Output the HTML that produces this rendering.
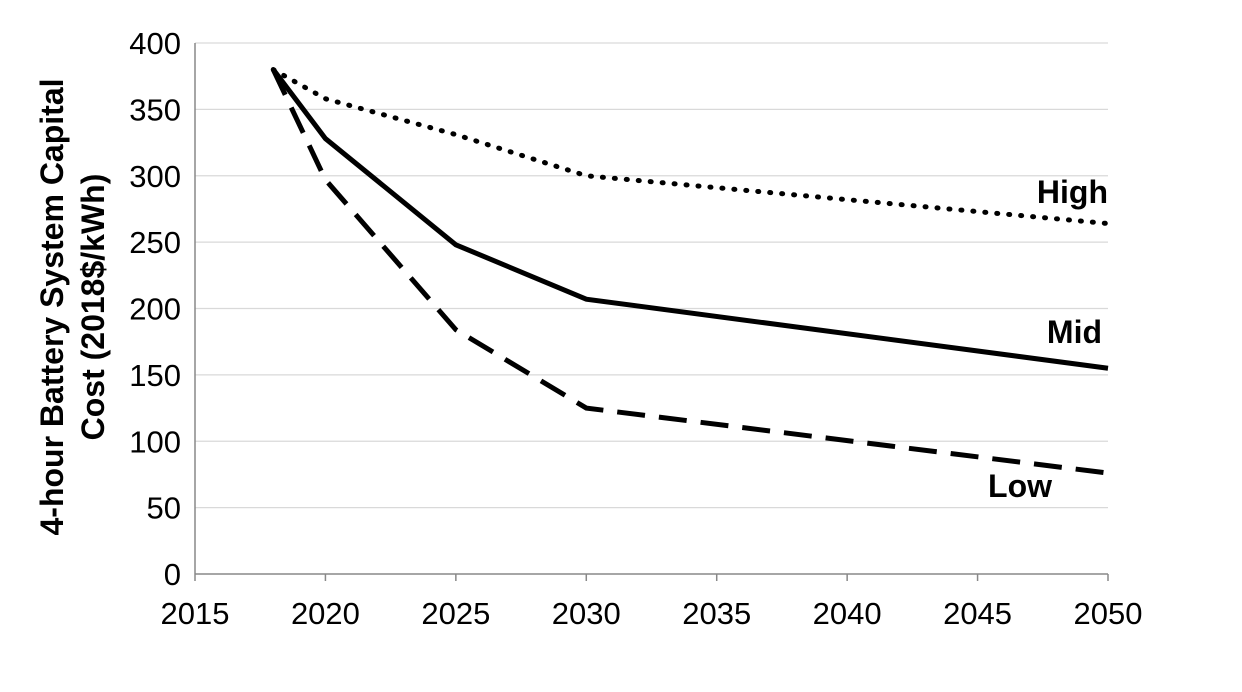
<!DOCTYPE html>
<html><head><meta charset="utf-8"><style>
body{margin:0;background:#fff;}
svg{display:block;font-family:"Liberation Sans",Arial,sans-serif;}
</style></head><body>
<svg id="chart" width="1242" height="692" viewBox="0 0 1242 692" xmlns="http://www.w3.org/2000/svg">
<g id="grid"></g>
<g id="yticks"></g>
<g id="xticks"></g>
<g id="series"></g>
<text transform="translate(63,307) rotate(-90)" text-anchor="middle" font-size="32" font-weight="bold">4-hour Battery System Capital</text>
<text transform="translate(104,307) rotate(-90)" text-anchor="middle" font-size="32" font-weight="bold">Cost (2018$/kWh)</text>
<text x="1108" y="203" text-anchor="end" font-size="32" font-weight="bold">High</text>
<text x="1102" y="343" text-anchor="end" font-size="32" font-weight="bold">Mid</text>
<text x="1052" y="497" text-anchor="end" font-size="32" font-weight="bold">Low</text>
</svg>
<script>
const years=[2018,2020,2025,2030,2050];
const highVals=[380,358,331,300,264];
const midVals=[380,328,248,207,155];
const lowVals=[380,297,184,125,76];
const yTicks=[0,50,100,150,200,250,300,350,400];
const xTicks=[2015,2020,2025,2030,2035,2040,2045,2050];
const NS="http://www.w3.org/2000/svg";
const x=v=>195+(v-2015)*(1108-195)/35;
const y=v=>574-v*(574-43)/400;
function mk(tag,attrs,parent){const e=document.createElementNS(NS,tag);for(const k in attrs)e.setAttribute(k,attrs[k]);parent.appendChild(e);return e;}
const grid=document.getElementById('grid'),yt=document.getElementById('yticks'),xt=document.getElementById('xticks'),ser=document.getElementById('series');
yTicks.forEach(t=>{
  const l=mk('line',{x1:195,x2:1108,y1:y(t),y2:y(t),stroke:t===0?'#888':'#d9d9d9','stroke-width':t===0?1.5:1.2},grid);
  
  
  const tx=mk('text',{x:181,y:y(t)+11,'text-anchor':'end','font-size':31},yt);
  tx.textContent=t;
  
  
});
const ax=mk('line',{x1:195,x2:195,y1:43,y2:574,stroke:'#888','stroke-width':1.5},grid);


xTicks.forEach(t=>{
  const tk=mk('line',{x1:x(t),x2:x(t),y1:574,y2:581,stroke:'#888','stroke-width':1.5},xt);
  
  
  const tx=mk('text',{x:x(t),y:624,'text-anchor':'middle','font-size':31},xt);
  tx.textContent=t;
  
  
});
function line(vals,dash,name){
  const d=vals.map((v,i)=>(i?'L':'M')+x(years[i])+','+y(v)).join(' ');
  const p=mk('path',{d:d,fill:'none',stroke:'#000','stroke-width':5,'stroke-dasharray':dash,'stroke-linecap':dash==='1 11'?'round':'butt'},ser);
  
  
}
line(highVals,'1 11','series-high');
line(midVals,'none','series-mid');
line(lowVals,'28 14','series-low');
</script>
</body></html>
